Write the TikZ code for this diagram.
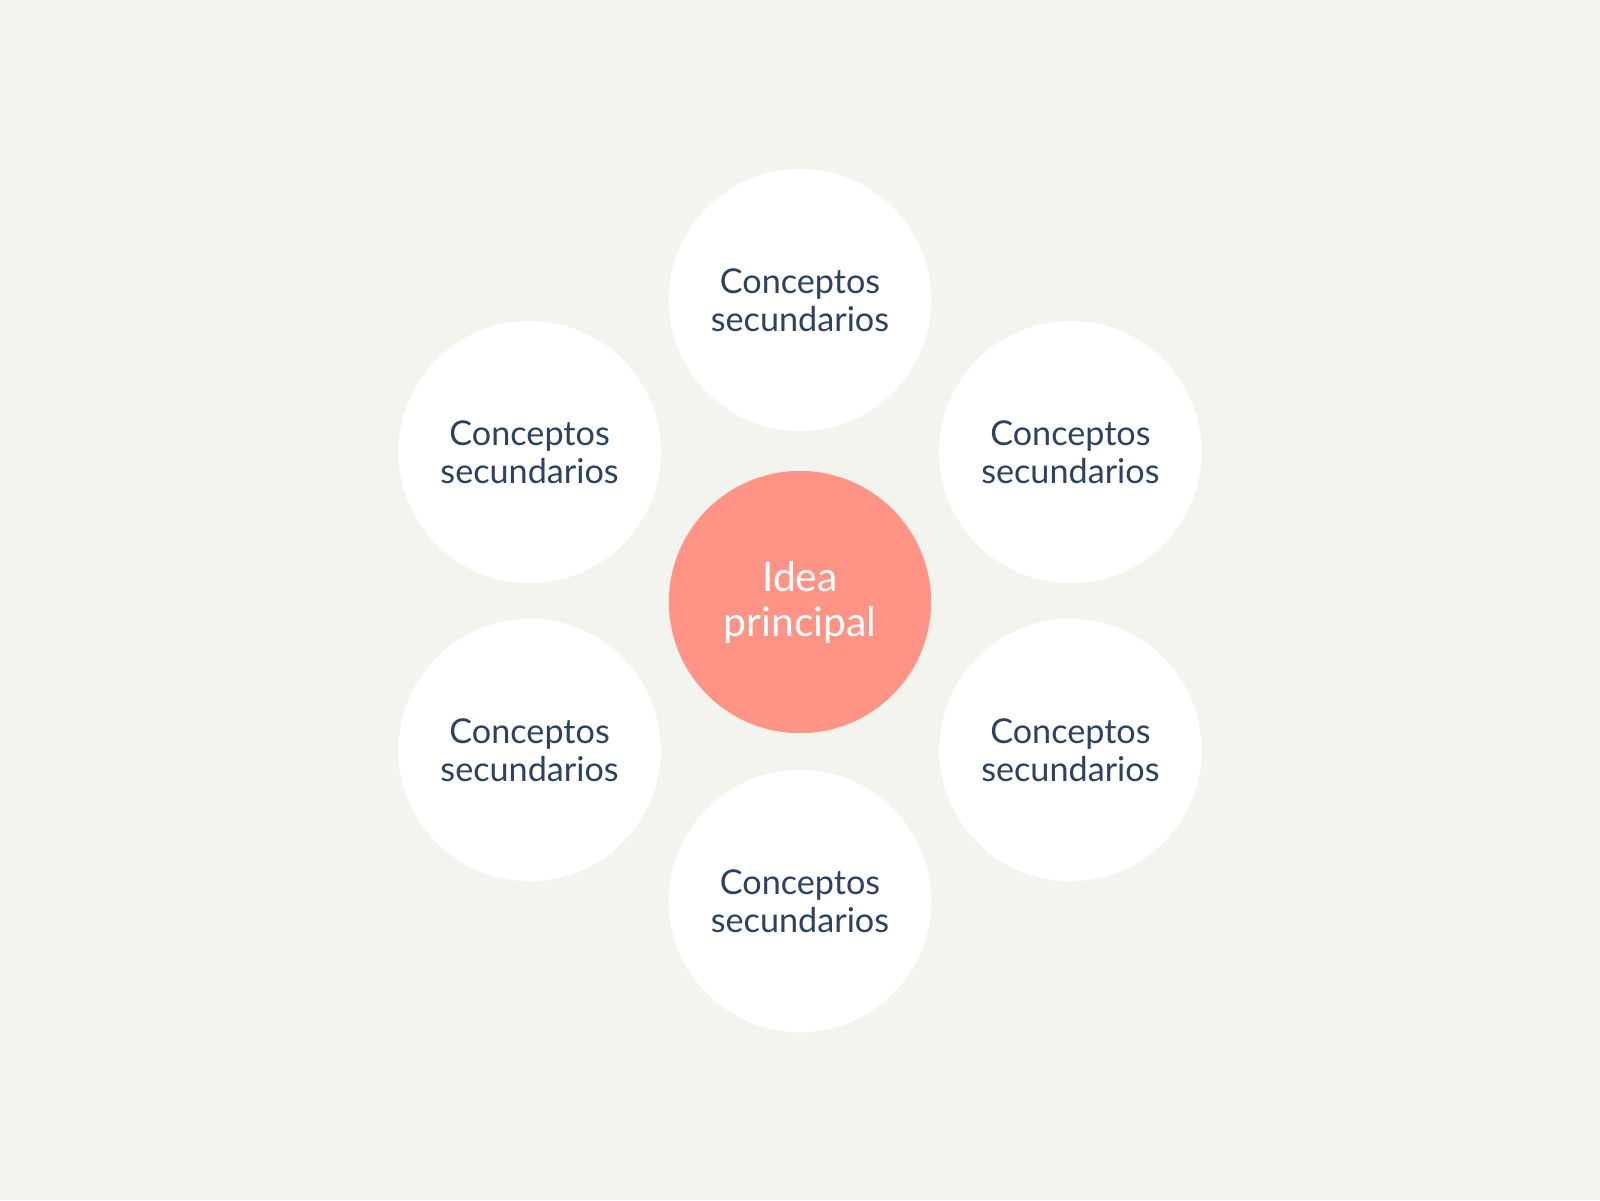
\documentclass[tikz,border=0pt]{standalone}
\usepackage{fontspec}
\setmainfont{Lato}
\definecolor{bg}{HTML}{F4F4EF}
\definecolor{coral}{HTML}{FF9486}
\definecolor{navy}{HTML}{2D4260}
\begin{document}
\begin{tikzpicture}[x=1pt,y=-1pt,
  sec/.style={circle,fill=white,minimum size=257pt,inner sep=0pt,align=center,text=navy,
    font=\fontsize{33.5}{37}\selectfont},
  mainc/.style={circle,fill=coral,minimum size=257pt,inner sep=0pt,align=center,text=white,
    font=\fontsize{40}{44}\selectfont}]
\fill[bg] (0,0) rectangle (1568,1176);
\useasboundingbox (0,0) rectangle (1568,1176);
\node[mainc] (c) at (784,590) {Idea\\principal};
\node[sec] (t) at (784,294) {Conceptos\\secundarios};
\node[sec] (lt) at (519,443) {Conceptos\\secundarios};
\node[sec] (rt) at (1049,443) {Conceptos\\secundarios};
\node[sec] (lb) at (519,735) {Conceptos\\secundarios};
\node[sec] (rb) at (1049,735) {Conceptos\\secundarios};
\node[sec] (b) at (784,883) {Conceptos\\secundarios};
\end{tikzpicture}
\end{document}
